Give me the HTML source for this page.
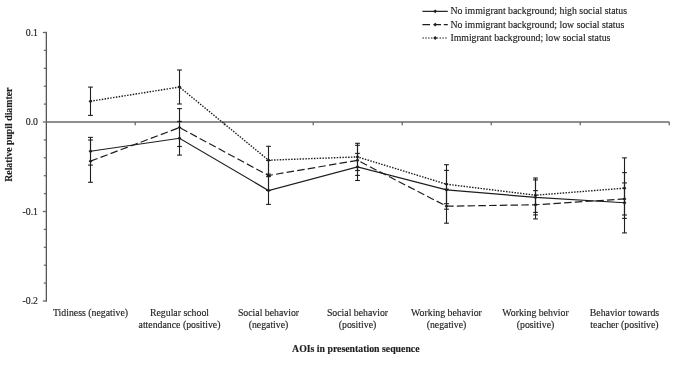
<!DOCTYPE html>
<html><head><meta charset="utf-8"><style>
html,body{margin:0;padding:0;background:#fff;width:685px;height:365px;overflow:hidden}
svg{display:block}
#w{will-change:transform;width:685px;height:365px}
.t{font-family:"Liberation Serif",serif;font-size:9.8px;fill:#1e1e1e;stroke:#1e1e1e;stroke-width:0.15px}
.b{font-weight:bold}
</style></head><body><div id="w">
<svg width="685" height="365" viewBox="0 0 685 365">
<line x1="46.35" y1="31.8" x2="46.35" y2="301.7" stroke="#585858" stroke-width="1.3"/>
<line x1="42.8" y1="32.50" x2="46.25" y2="32.50" stroke="#6a6a6a" stroke-width="1.3"/>
<line x1="43.8" y1="50.40" x2="46.25" y2="50.40" stroke="#6a6a6a" stroke-width="1.3"/>
<line x1="43.8" y1="68.30" x2="46.25" y2="68.30" stroke="#6a6a6a" stroke-width="1.3"/>
<line x1="43.8" y1="86.20" x2="46.25" y2="86.20" stroke="#6a6a6a" stroke-width="1.3"/>
<line x1="43.8" y1="104.10" x2="46.25" y2="104.10" stroke="#6a6a6a" stroke-width="1.3"/>
<line x1="42.8" y1="122.00" x2="46.25" y2="122.00" stroke="#6a6a6a" stroke-width="1.3"/>
<line x1="43.8" y1="139.90" x2="46.25" y2="139.90" stroke="#6a6a6a" stroke-width="1.3"/>
<line x1="43.8" y1="157.80" x2="46.25" y2="157.80" stroke="#6a6a6a" stroke-width="1.3"/>
<line x1="43.8" y1="175.70" x2="46.25" y2="175.70" stroke="#6a6a6a" stroke-width="1.3"/>
<line x1="43.8" y1="193.60" x2="46.25" y2="193.60" stroke="#6a6a6a" stroke-width="1.3"/>
<line x1="42.8" y1="211.50" x2="46.25" y2="211.50" stroke="#6a6a6a" stroke-width="1.3"/>
<line x1="43.8" y1="229.40" x2="46.25" y2="229.40" stroke="#6a6a6a" stroke-width="1.3"/>
<line x1="43.8" y1="247.30" x2="46.25" y2="247.30" stroke="#6a6a6a" stroke-width="1.3"/>
<line x1="43.8" y1="265.20" x2="46.25" y2="265.20" stroke="#6a6a6a" stroke-width="1.3"/>
<line x1="43.8" y1="283.10" x2="46.25" y2="283.10" stroke="#6a6a6a" stroke-width="1.3"/>
<line x1="42.8" y1="301.00" x2="46.25" y2="301.00" stroke="#6a6a6a" stroke-width="1.3"/>
<line x1="46.25" y1="122" x2="669.25" y2="122" stroke="#6a6a6a" stroke-width="1.5"/>
<line x1="135.25" y1="122" x2="135.25" y2="125.2" stroke="#6a6a6a" stroke-width="1.3"/>
<line x1="224.25" y1="122" x2="224.25" y2="125.2" stroke="#6a6a6a" stroke-width="1.3"/>
<line x1="313.25" y1="122" x2="313.25" y2="125.2" stroke="#6a6a6a" stroke-width="1.3"/>
<line x1="402.25" y1="122" x2="402.25" y2="125.2" stroke="#6a6a6a" stroke-width="1.3"/>
<line x1="491.25" y1="122" x2="491.25" y2="125.2" stroke="#6a6a6a" stroke-width="1.3"/>
<line x1="580.25" y1="122" x2="580.25" y2="125.2" stroke="#6a6a6a" stroke-width="1.3"/>
<line x1="669.25" y1="122" x2="669.25" y2="125.2" stroke="#6a6a6a" stroke-width="1.3"/>
<text x="38" y="35.90" text-anchor="end" class="t">0.1</text>
<text x="38" y="125.40" text-anchor="end" class="t">0.0</text>
<text x="38" y="214.90" text-anchor="end" class="t">-0.1</text>
<text x="38" y="304.40" text-anchor="end" class="t">-0.2</text>
<line x1="90.50" y1="137.40" x2="90.50" y2="165.10" stroke="#1e1e1e" stroke-width="1.1"/>
<line x1="88.10" y1="137.40" x2="92.90" y2="137.40" stroke="#1e1e1e" stroke-width="1.1"/>
<line x1="88.10" y1="165.10" x2="92.90" y2="165.10" stroke="#1e1e1e" stroke-width="1.1"/>
<line x1="179.50" y1="121.40" x2="179.50" y2="155.10" stroke="#1e1e1e" stroke-width="1.1"/>
<line x1="177.10" y1="121.40" x2="181.90" y2="121.40" stroke="#1e1e1e" stroke-width="1.1"/>
<line x1="177.10" y1="155.10" x2="181.90" y2="155.10" stroke="#1e1e1e" stroke-width="1.1"/>
<line x1="268.50" y1="176.60" x2="268.50" y2="204.40" stroke="#1e1e1e" stroke-width="1.1"/>
<line x1="266.10" y1="176.60" x2="270.90" y2="176.60" stroke="#1e1e1e" stroke-width="1.1"/>
<line x1="266.10" y1="204.40" x2="270.90" y2="204.40" stroke="#1e1e1e" stroke-width="1.1"/>
<line x1="357.50" y1="153.40" x2="357.50" y2="180.50" stroke="#1e1e1e" stroke-width="1.1"/>
<line x1="355.10" y1="153.40" x2="359.90" y2="153.40" stroke="#1e1e1e" stroke-width="1.1"/>
<line x1="355.10" y1="180.50" x2="359.90" y2="180.50" stroke="#1e1e1e" stroke-width="1.1"/>
<line x1="446.50" y1="170.40" x2="446.50" y2="209.20" stroke="#1e1e1e" stroke-width="1.1"/>
<line x1="444.10" y1="170.40" x2="448.90" y2="170.40" stroke="#1e1e1e" stroke-width="1.1"/>
<line x1="444.10" y1="209.20" x2="448.90" y2="209.20" stroke="#1e1e1e" stroke-width="1.1"/>
<line x1="535.50" y1="179.90" x2="535.50" y2="214.90" stroke="#1e1e1e" stroke-width="1.1"/>
<line x1="533.10" y1="179.90" x2="537.90" y2="179.90" stroke="#1e1e1e" stroke-width="1.1"/>
<line x1="533.10" y1="214.90" x2="537.90" y2="214.90" stroke="#1e1e1e" stroke-width="1.1"/>
<line x1="624.50" y1="172.60" x2="624.50" y2="232.90" stroke="#1e1e1e" stroke-width="1.1"/>
<line x1="622.10" y1="172.60" x2="626.90" y2="172.60" stroke="#1e1e1e" stroke-width="1.1"/>
<line x1="622.10" y1="232.90" x2="626.90" y2="232.90" stroke="#1e1e1e" stroke-width="1.1"/>
<line x1="90.50" y1="140.00" x2="90.50" y2="182.30" stroke="#1e1e1e" stroke-width="1.1"/>
<line x1="88.10" y1="140.00" x2="92.90" y2="140.00" stroke="#1e1e1e" stroke-width="1.1"/>
<line x1="88.10" y1="182.30" x2="92.90" y2="182.30" stroke="#1e1e1e" stroke-width="1.1"/>
<line x1="179.50" y1="108.60" x2="179.50" y2="146.50" stroke="#1e1e1e" stroke-width="1.1"/>
<line x1="177.10" y1="108.60" x2="181.90" y2="108.60" stroke="#1e1e1e" stroke-width="1.1"/>
<line x1="177.10" y1="146.50" x2="181.90" y2="146.50" stroke="#1e1e1e" stroke-width="1.1"/>
<line x1="268.50" y1="160.50" x2="268.50" y2="190.50" stroke="#1e1e1e" stroke-width="1.1"/>
<line x1="266.10" y1="160.50" x2="270.90" y2="160.50" stroke="#1e1e1e" stroke-width="1.1"/>
<line x1="266.10" y1="190.50" x2="270.90" y2="190.50" stroke="#1e1e1e" stroke-width="1.1"/>
<line x1="357.50" y1="145.30" x2="357.50" y2="175.40" stroke="#1e1e1e" stroke-width="1.1"/>
<line x1="355.10" y1="145.30" x2="359.90" y2="145.30" stroke="#1e1e1e" stroke-width="1.1"/>
<line x1="355.10" y1="175.40" x2="359.90" y2="175.40" stroke="#1e1e1e" stroke-width="1.1"/>
<line x1="446.50" y1="189.20" x2="446.50" y2="223.20" stroke="#1e1e1e" stroke-width="1.1"/>
<line x1="444.10" y1="189.20" x2="448.90" y2="189.20" stroke="#1e1e1e" stroke-width="1.1"/>
<line x1="444.10" y1="223.20" x2="448.90" y2="223.20" stroke="#1e1e1e" stroke-width="1.1"/>
<line x1="535.50" y1="190.60" x2="535.50" y2="218.90" stroke="#1e1e1e" stroke-width="1.1"/>
<line x1="533.10" y1="190.60" x2="537.90" y2="190.60" stroke="#1e1e1e" stroke-width="1.1"/>
<line x1="533.10" y1="218.90" x2="537.90" y2="218.90" stroke="#1e1e1e" stroke-width="1.1"/>
<line x1="624.50" y1="182.90" x2="624.50" y2="215.00" stroke="#1e1e1e" stroke-width="1.1"/>
<line x1="622.10" y1="182.90" x2="626.90" y2="182.90" stroke="#1e1e1e" stroke-width="1.1"/>
<line x1="622.10" y1="215.00" x2="626.90" y2="215.00" stroke="#1e1e1e" stroke-width="1.1"/>
<line x1="90.50" y1="87.10" x2="90.50" y2="115.40" stroke="#1e1e1e" stroke-width="1.1"/>
<line x1="88.10" y1="87.10" x2="92.90" y2="87.10" stroke="#1e1e1e" stroke-width="1.1"/>
<line x1="88.10" y1="115.40" x2="92.90" y2="115.40" stroke="#1e1e1e" stroke-width="1.1"/>
<line x1="179.50" y1="70.00" x2="179.50" y2="104.00" stroke="#1e1e1e" stroke-width="1.1"/>
<line x1="177.10" y1="70.00" x2="181.90" y2="70.00" stroke="#1e1e1e" stroke-width="1.1"/>
<line x1="177.10" y1="104.00" x2="181.90" y2="104.00" stroke="#1e1e1e" stroke-width="1.1"/>
<line x1="268.50" y1="146.30" x2="268.50" y2="174.10" stroke="#1e1e1e" stroke-width="1.1"/>
<line x1="266.10" y1="146.30" x2="270.90" y2="146.30" stroke="#1e1e1e" stroke-width="1.1"/>
<line x1="266.10" y1="174.10" x2="270.90" y2="174.10" stroke="#1e1e1e" stroke-width="1.1"/>
<line x1="357.50" y1="143.30" x2="357.50" y2="170.50" stroke="#1e1e1e" stroke-width="1.1"/>
<line x1="355.10" y1="143.30" x2="359.90" y2="143.30" stroke="#1e1e1e" stroke-width="1.1"/>
<line x1="355.10" y1="170.50" x2="359.90" y2="170.50" stroke="#1e1e1e" stroke-width="1.1"/>
<line x1="446.50" y1="164.70" x2="446.50" y2="203.70" stroke="#1e1e1e" stroke-width="1.1"/>
<line x1="444.10" y1="164.70" x2="448.90" y2="164.70" stroke="#1e1e1e" stroke-width="1.1"/>
<line x1="444.10" y1="203.70" x2="448.90" y2="203.70" stroke="#1e1e1e" stroke-width="1.1"/>
<line x1="535.50" y1="178.00" x2="535.50" y2="212.40" stroke="#1e1e1e" stroke-width="1.1"/>
<line x1="533.10" y1="178.00" x2="537.90" y2="178.00" stroke="#1e1e1e" stroke-width="1.1"/>
<line x1="533.10" y1="212.40" x2="537.90" y2="212.40" stroke="#1e1e1e" stroke-width="1.1"/>
<line x1="624.50" y1="157.90" x2="624.50" y2="218.40" stroke="#1e1e1e" stroke-width="1.1"/>
<line x1="622.10" y1="157.90" x2="626.90" y2="157.90" stroke="#1e1e1e" stroke-width="1.1"/>
<line x1="622.10" y1="218.40" x2="626.90" y2="218.40" stroke="#1e1e1e" stroke-width="1.1"/>
<polyline points="90.50,151.25 179.50,138.25 268.50,190.50 357.50,166.95 446.50,189.80 535.50,197.40 624.50,202.75" fill="none" stroke="#1e1e1e" stroke-width="1.2"/>
<polyline points="90.50,161.15 179.50,127.55 268.50,175.50 357.50,160.35 446.50,206.20 535.50,204.75 624.50,198.95" fill="none" stroke="#1e1e1e" stroke-width="1.2" stroke-dasharray="7.52 3.21"/>
<polyline points="90.50,101.25 179.50,87.00 268.50,160.20 357.50,156.90 446.50,184.20 535.50,195.20 624.50,188.15" fill="none" stroke="#1e1e1e" stroke-width="1.4" stroke-dasharray="1.5 1.35"/>
<path d="M88.60,151.25 L90.50,149.35 L92.40,151.25 L90.50,153.15 Z" fill="#1e1e1e"/>
<path d="M177.60,138.25 L179.50,136.35 L181.40,138.25 L179.50,140.15 Z" fill="#1e1e1e"/>
<path d="M266.60,190.50 L268.50,188.60 L270.40,190.50 L268.50,192.40 Z" fill="#1e1e1e"/>
<path d="M355.60,166.95 L357.50,165.05 L359.40,166.95 L357.50,168.85 Z" fill="#1e1e1e"/>
<path d="M444.60,189.80 L446.50,187.90 L448.40,189.80 L446.50,191.70 Z" fill="#1e1e1e"/>
<path d="M533.60,197.40 L535.50,195.50 L537.40,197.40 L535.50,199.30 Z" fill="#1e1e1e"/>
<path d="M622.60,202.75 L624.50,200.85 L626.40,202.75 L624.50,204.65 Z" fill="#1e1e1e"/>
<path d="M88.60,161.15 L90.50,159.25 L92.40,161.15 L90.50,163.05 Z" fill="#1e1e1e"/>
<path d="M177.60,127.55 L179.50,125.65 L181.40,127.55 L179.50,129.45 Z" fill="#1e1e1e"/>
<path d="M266.60,175.50 L268.50,173.60 L270.40,175.50 L268.50,177.40 Z" fill="#1e1e1e"/>
<path d="M355.60,160.35 L357.50,158.45 L359.40,160.35 L357.50,162.25 Z" fill="#1e1e1e"/>
<path d="M444.60,206.20 L446.50,204.30 L448.40,206.20 L446.50,208.10 Z" fill="#1e1e1e"/>
<path d="M533.60,204.75 L535.50,202.85 L537.40,204.75 L535.50,206.65 Z" fill="#1e1e1e"/>
<path d="M622.60,198.95 L624.50,197.05 L626.40,198.95 L624.50,200.85 Z" fill="#1e1e1e"/>
<path d="M88.60,101.25 L90.50,99.35 L92.40,101.25 L90.50,103.15 Z" fill="#1e1e1e"/>
<path d="M177.60,87.00 L179.50,85.10 L181.40,87.00 L179.50,88.90 Z" fill="#1e1e1e"/>
<path d="M266.60,160.20 L268.50,158.30 L270.40,160.20 L268.50,162.10 Z" fill="#1e1e1e"/>
<path d="M355.60,156.90 L357.50,155.00 L359.40,156.90 L357.50,158.80 Z" fill="#1e1e1e"/>
<path d="M444.60,184.20 L446.50,182.30 L448.40,184.20 L446.50,186.10 Z" fill="#1e1e1e"/>
<path d="M533.60,195.20 L535.50,193.30 L537.40,195.20 L535.50,197.10 Z" fill="#1e1e1e"/>
<path d="M622.60,188.15 L624.50,186.25 L626.40,188.15 L624.50,190.05 Z" fill="#1e1e1e"/>
<line x1="422.4" y1="11.35" x2="447.8" y2="11.35" stroke="#1e1e1e" stroke-width="1.2"/>
<path d="M433.30,11.35 L435.20,9.45 L437.10,11.35 L435.20,13.25 Z" fill="#1e1e1e"/>
<text x="450.4" y="14.35" class="t">No immigrant background; high social status</text>
<path d="M422.4,24.6 H430 M433.6,24.6 H441 M443.8,24.6 H447.8" stroke="#1e1e1e" stroke-width="1.2"/>
<path d="M433.30,24.60 L435.20,22.70 L437.10,24.60 L435.20,26.50 Z" fill="#1e1e1e"/>
<text x="450.4" y="27.60" class="t">No immigrant background; low social status</text>
<line x1="422.4" y1="38.0" x2="447.8" y2="38.0" stroke="#1e1e1e" stroke-width="1.2" stroke-dasharray="1.5 1.35"/>
<path d="M433.30,38.00 L435.20,36.10 L437.10,38.00 L435.20,39.90 Z" fill="#1e1e1e"/>
<text x="450.4" y="41.00" class="t">Immigrant background; low social status</text>
<text x="90.50" y="316.30" text-anchor="middle" class="t">Tidiness (negative)</text>
<text x="179.50" y="316.30" text-anchor="middle" class="t">Regular school</text>
<text x="179.50" y="327.70" text-anchor="middle" class="t">attendance (positive)</text>
<text x="268.50" y="316.30" text-anchor="middle" class="t">Social behavior</text>
<text x="268.50" y="327.70" text-anchor="middle" class="t">(negative)</text>
<text x="357.50" y="316.30" text-anchor="middle" class="t">Social behavior</text>
<text x="357.50" y="327.70" text-anchor="middle" class="t">(positive)</text>
<text x="446.50" y="316.30" text-anchor="middle" class="t">Working behavior</text>
<text x="446.50" y="327.70" text-anchor="middle" class="t">(negative)</text>
<text x="535.50" y="316.30" text-anchor="middle" class="t">Working behvior</text>
<text x="535.50" y="327.70" text-anchor="middle" class="t">(positive)</text>
<text x="624.50" y="316.30" text-anchor="middle" class="t">Behavior towards</text>
<text x="624.50" y="327.70" text-anchor="middle" class="t">teacher (positive)</text>
<text x="355.8" y="351.8" text-anchor="middle" class="t b">AOIs in presentation sequence</text>
<text transform="translate(12.4,134.7) rotate(-90)" text-anchor="middle" class="t b">Relative pupil diamter</text>
</svg>
</div></body></html>
